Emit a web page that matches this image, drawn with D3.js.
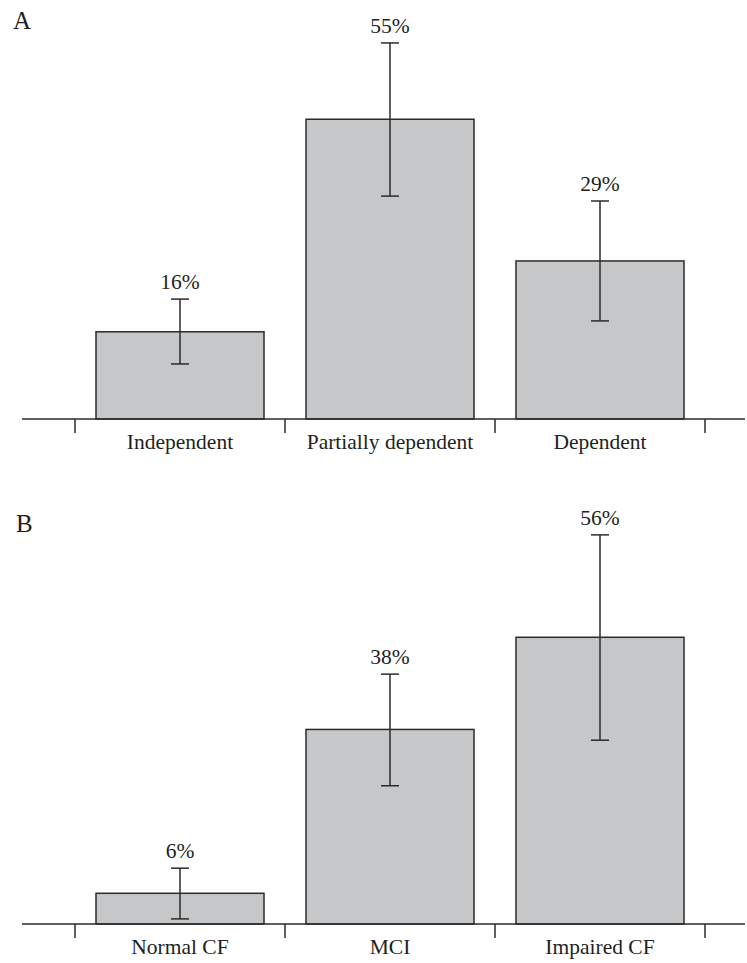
<!DOCTYPE html>
<html>
<head>
<meta charset="utf-8">
<script src="https://cdn.jsdelivr.net/npm/d3@7"></script>
<style>
    body { margin: 0; background: #ffffff; }
    text { font-family: "Liberation Serif", "Times New Roman", serif; fill: #231f20; }
</style>
</head>
<body>
<div id="chartDiv"></div>
<script>
// panel A - functional status
var catsA = ["Independent", "Partially dependent", "Dependent"];
var valsA = [16, 55, 29];
var lowA = [10.1, 40.9, 18.0];
var highA = [22.0, 69.0, 40.0];

// panel B - cognitive function
var catsB = ["Normal CF", "MCI", "Impaired CF"];
var valsB = [6, 38, 56];
var lowB = [1.0, 27.0, 35.9];
var highB = [10.9, 48.8, 76.0];

var width = 747, height = 963;

var svg = d3.select("#chartDiv").append("svg")
    .attr("width", width)
    .attr("height", height);

function drawPanel(letter, cats, vals, lows, highs, top, baseY, yMax) {
    var g = svg.append("g");

    var x = d3.scaleBand()
        .domain(cats)
        .range([75, 705])
        .padding(0);

    var y = d3.scaleLinear()
        .domain([0, yMax])
        .range([baseY, top]);

    var barW = x.bandwidth() * 0.8;

    var rows = cats.map(function (c, i) {
        return { cat: c, v: vals[i], lo: lows[i], hi: highs[i] };
    });

    // panel letter
    g.append("text")
        .attr("x", letter == "A" ? 13 : 16)
        .attr("y", letter == "A" ? 29 : 532)
        .attr("font-size", "25px")
        .text(letter);

    // bars
    g.selectAll("rect.bar")
        .data(rows)
        .enter().append("rect")
        .attr("class", "bar")
        .attr("x", function (d) { return x(d.cat) + (x.bandwidth() - barW) / 2; })
        .attr("y", function (d) { return y(d.v); })
        .attr("width", barW)
        .attr("height", function (d) { return y(0) - y(d.v); })
        .attr("fill", "#c6c7c9")
        .attr("stroke", "#2b2b2b")
        .attr("stroke-width", 1.5);

    // error bars
    var eb = g.selectAll("g.err")
        .data(rows)
        .enter().append("g")
        .attr("class", "err")
        .attr("transform", function (d) { return "translate(" + (x(d.cat) + x.bandwidth() / 2) + ",0)"; });

    eb.append("line")
        .attr("y1", function (d) { return y(d.lo); })
        .attr("y2", function (d) { return y(d.hi); })
        .attr("stroke", "#2b2b2b").attr("stroke-width", 1.5);
    eb.append("line")
        .attr("x1", -9).attr("x2", 9)
        .attr("y1", function (d) { return y(d.hi); })
        .attr("y2", function (d) { return y(d.hi); })
        .attr("stroke", "#2b2b2b").attr("stroke-width", 1.5);
    eb.append("line")
        .attr("x1", -9).attr("x2", 9)
        .attr("y1", function (d) { return y(d.lo); })
        .attr("y2", function (d) { return y(d.lo); })
        .attr("stroke", "#2b2b2b").attr("stroke-width", 1.5);

    // value labels
    eb.append("text")
        .attr("y", function (d) { return y(d.hi) - 10; })
        .attr("text-anchor", "middle")
        .attr("font-size", "21.5px")
        .text(function (d) { return d.v + "%"; });

    // baseline + ticks between categories
    g.append("line")
        .attr("x1", 22).attr("x2", 745)
        .attr("y1", y(0)).attr("y2", y(0))
        .attr("stroke", "#2b2b2b").attr("stroke-width", 1.5);

    var tickX = cats.map(function (c) { return x(c); }).concat([x.range()[1]]);
    g.selectAll("line.tick")
        .data(tickX)
        .enter().append("line")
        .attr("class", "tick")
        .attr("x1", function (d) { return d; })
        .attr("x2", function (d) { return d; })
        .attr("y1", y(0))
        .attr("y2", y(0) + 14)
        .attr("stroke", "#2b2b2b").attr("stroke-width", 1.5);

    // category labels
    g.selectAll("text.cat")
        .data(cats)
        .enter().append("text")
        .attr("class", "cat")
        .attr("x", function (d) { return x(d) + x.bandwidth() / 2; })
        .attr("y", y(0) + 30)
        .attr("text-anchor", "middle")
        .attr("font-size", "21.5px")
        .text(function (d) { return d; });
}

drawPanel("A", catsA, valsA, lowA, highA, 37.5, 419, 70);
drawPanel("B", catsB, valsB, lowB, highB, 514.4, 924, 80);
</script>
</body>
</html>
